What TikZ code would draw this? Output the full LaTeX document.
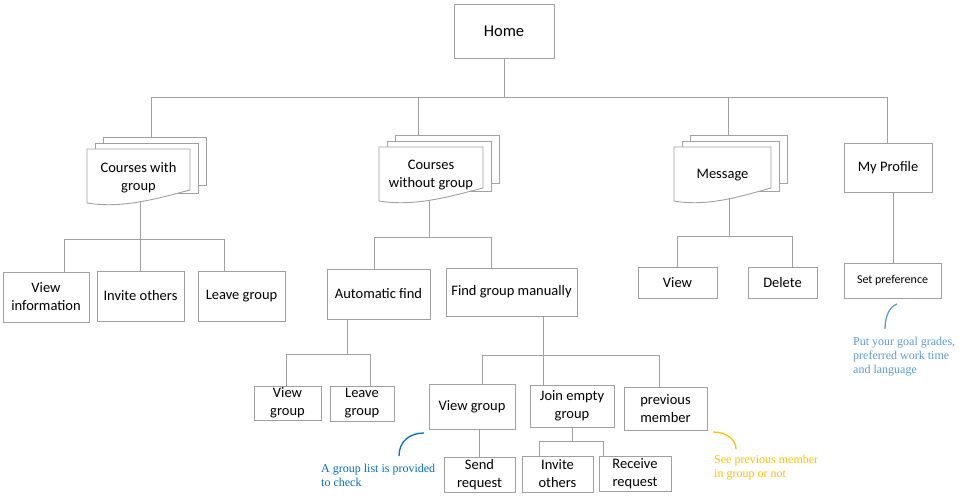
\documentclass[tikz,border=0pt]{standalone}
\usepackage{fontspec}
\setmainfont{Carlito}
\newfontfamily\notefont{Liberation Serif}
\usetikzlibrary{positioning, backgrounds}
\definecolor{linegray}{RGB}{160,160,160}
\definecolor{notedark}{RGB}{0,112,192}
\definecolor{notelight}{RGB}{91,155,213}
\definecolor{notegold}{RGB}{255,192,0}

\begin{document}
\begin{tikzpicture}[x=1pt, y=-1pt, font=\fontsize{14.5}{18}\selectfont,
  box/.style={draw=linegray, line width=0.9pt, fill=white, inner sep=0pt, outer sep=0pt, align=center},
  conn/.style={draw=linegray, line width=0.9pt},
  pagetext/.style={inner sep=0pt, outer sep=0pt, align=center},
  pageback/.style={draw=linegray, line width=0.9pt, fill=white, inner sep=0pt, outer sep=0pt, anchor=north west},
  note/.style={font=\notefont\fontsize{12}{14}\selectfont, align=left, inner sep=0pt, anchor=north west},
  notemark/.style={line width=1.3pt}]
  \useasboundingbox (0,0) rectangle (973,502);

  % ---- Stacked pages macro ----
  \def\pagestack#1#2#3#4{% name, centre, width, text
    \node[pagetext, minimum width=#3, minimum height=54] (#1) at (#2) {};
    \node[pageback, minimum width=#3, minimum height=48] (#1-b) at ([xshift=16, yshift=12]#1.north west) {};
    \node[pageback, minimum width=#3, minimum height=50] (#1-m) at ([xshift=8, yshift=6]#1.north west) {};
    \draw[draw=linegray, line width=0.9pt, fill=white] (#1.north west) -- (#1.north east) -- ([yshift=13]#1.south east)
      .. controls ([xshift={-0.3*#3}, yshift=5]#1.south east) and ([xshift={0.35*#3}, yshift=-6]#1.south west) .. (#1.south west) -- cycle;
    \node[pagetext] (#1-t) at ([yshift=-1.5]#1.center) {#4};
  }

  % ---- Top level ----
  \node[box, minimum width=100, minimum height=54, font=\fontsize{16.5}{20}\selectfont] (home) at (504,31) {Home};
  \pagestack{cwg}{138.5,176}{103}{Courses with\\group}
  \pagestack{cwog}{431,174}{104}{Courses\\without group}
  \pagestack{msg}{722.5,174}{97}{Message}
  \node[box, minimum width=88, minimum height=49] (prof) at (888,167.5) {My Profile};

  % ---- Courses with group ----
  \node[box, minimum width=86, minimum height=50] (vinfo) at (46,297) {View\\information};
  \node[box, minimum width=87, minimum height=50] (invite) at (140.5,296) {Invite others};
  \node[box, minimum width=87, minimum height=50] (leave) at (241.5,296) {Leave group};

  % ---- Courses without group ----
  \node[box, minimum width=103, minimum height=50] (auto) at (378.5,294) {Automatic find};
  \node[box, minimum width=131, minimum height=48] (manual) at (511.5,292) {Find group manually};
  \node[box, minimum width=67, minimum height=34] (viewg) at (287.5,403) {View\\group};
  \node[box, minimum width=64, minimum height=35] (leaveg) at (362,403.5) {Leave\\group};
  \node[box, minimum width=86, minimum height=45] (viewgrp) at (472,406.5) {View group};
  \node[box, minimum width=84, minimum height=42] (join) at (572,406) {Join empty\\group};
  \node[box, minimum width=83, minimum height=43] (prev) at (665.5,408.5) {previous\\member};
  \node[box, minimum width=71, minimum height=35] (send) at (479.5,474.5) {Send\\request};
  \node[box, minimum width=71, minimum height=36] (invite2) at (557.5,474) {Invite\\others};
  \node[box, minimum width=72, minimum height=35] (receive) at (635,473.5) {Receive\\request};

  % ---- Message and profile ----
  \node[box, minimum width=79, minimum height=31] (mview) at (677.5,282.5) {View};
  \node[box, minimum width=69, minimum height=31] (mdel) at (782.5,282.5) {Delete};
  \node[box, minimum width=97, minimum height=35, font=\fontsize{12}{14}\selectfont] (setpref) at (892.5,280.5) {Set preference};

  % ---- Tree connectors ----
  \begin{scope}[on background layer]
    \coordinate (b-home) at (504,97);
    \draw[conn] (home.south) -- (b-home);
    \foreach \x/\n in {151/cwg-b, 418/cwog-b, 728/msg-b, 887/prof}
      \draw[conn] (b-home) -| (\x,0 |- \n.north);

    \coordinate (b-cwg) at (140,239);
    \draw[conn] (b-cwg |- cwg.center) -- (b-cwg);
    \foreach \x/\n in {64/vinfo, 140/invite, 224/leave}
      \draw[conn] (b-cwg) -| (\x,0 |- \n.north);

    \coordinate (b-cwog) at (429,237);
    \draw[conn] (b-cwog |- cwog.center) -- (b-cwog);
    \foreach \x/\n in {374/auto, 491/manual}
      \draw[conn] (b-cwog) -| (\x,0 |- \n.north);

    \coordinate (b-msg) at (729,236);
    \draw[conn] (b-msg |- msg.center) -- (b-msg);
    \foreach \x/\n in {677/mview, 792/mdel}
      \draw[conn] (b-msg) -| (\x,0 |- \n.north);

    \coordinate (b-prof) at (893,0);
    \draw[conn] (b-prof |- prof.south) -- (b-prof |- setpref.north);

    \coordinate (b-auto) at (347,354);
    \draw[conn] (b-auto |- auto.south) -- (b-auto);
    \foreach \x/\n in {286/viewg, 370/leaveg}
      \draw[conn] (b-auto) -| (\x,0 |- \n.north);

    \coordinate (b-manual) at (543,355);
    \draw[conn] (b-manual |- manual.south) -- (b-manual);
    \foreach \x/\n in {482/viewgrp, 543/join, 659/prev}
      \draw[conn] (b-manual) -| (\x,0 |- \n.north);

    \draw[conn] (send.north |- viewgrp.south) -- (send.north);

    \coordinate (b-join) at (572,441);
    \draw[conn] (b-join |- join.south) -- (b-join);
    \foreach \x/\n in {539/invite2, 603/receive}
      \draw[conn] (b-join) -| (\x,0 |- \n.north);
  \end{scope}

  % ---- Notes ----
  \node[note, text=notedark] (note-list) at (321,463.5) {A group list is provided\\to check};
  \draw[notemark, notedark] (399,456) .. controls (399,441) and (410,433) .. (424,433);

  \node[note, text=notegold] (note-prev) at (714,454.5) {See previous member\\in group or not};
  \draw[notemark, notegold] (713,432) .. controls (727,432) and (736,440) .. (736,449);

  \node[note, text=notelight] (note-pref) at (853,336.5) {Put your goal grades,\\preferred work time\\and language};
  \draw[notemark, notelight] (885,329) .. controls (885,317) and (889,307) .. (897,304);
\end{tikzpicture}
\end{document}
